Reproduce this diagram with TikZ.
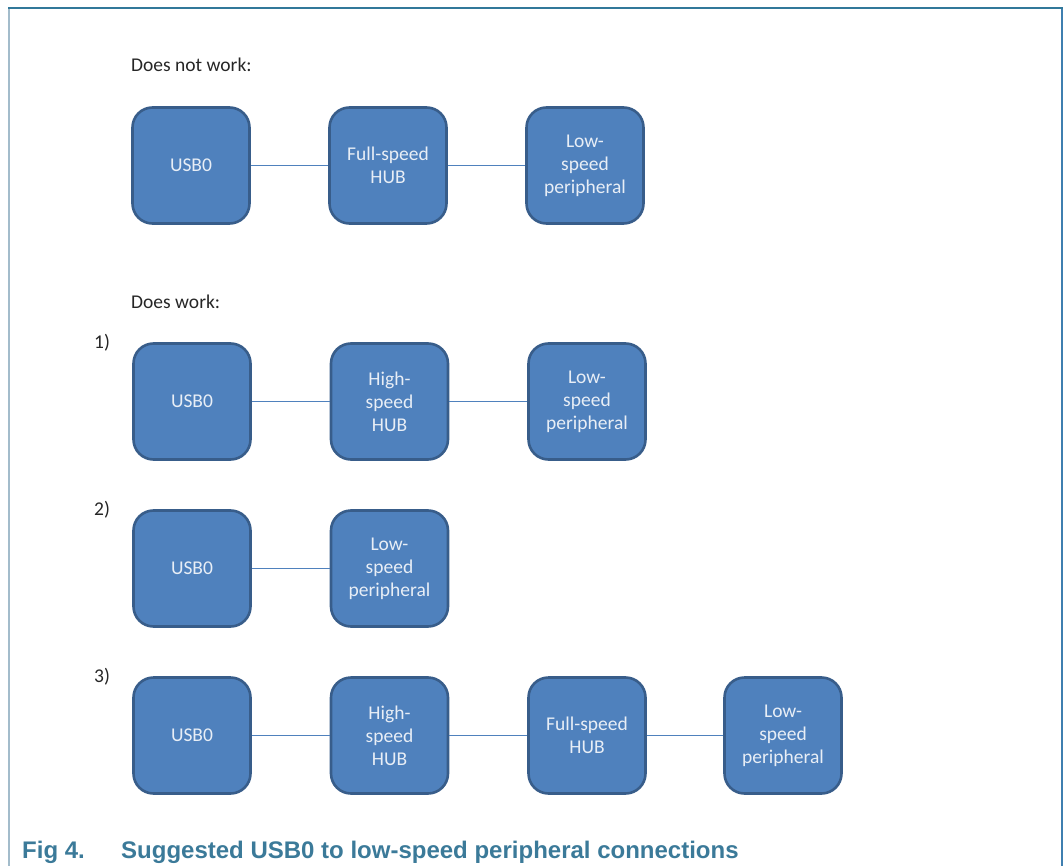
\documentclass[tikz,border=0pt]{standalone}
\usepackage{fontspec}
\setmainfont{Carlito}
\newfontfamily\capfont{Liberation Sans}
\definecolor{boxfill}{HTML}{4F81BD}
\definecolor{boxedge}{HTML}{385D8A}
\definecolor{boxtext}{HTML}{E8EEF6}
\definecolor{captxt}{HTML}{3B7A99}
\definecolor{frametop}{HTML}{31789A}
\definecolor{frameleft}{HTML}{A3BCCB}
\definecolor{frameright}{HTML}{3F7FB0}
\tikzset{
  blockbox/.style={draw=boxedge, line width=2.6pt, fill=boxfill, rounded corners=20pt,
    minimum width=117pt, minimum height=116pt, inner sep=0pt, align=center,
    text=boxtext, font=\fontsize{19.5}{23}\selectfont},
  link/.style={draw=boxfill, line width=1.6pt},
  heading/.style={anchor=base west, inner sep=0pt, text=black!85, font=\fontsize{19.5}{22}\selectfont},
  captext/.style={anchor=base west, inner sep=0pt, text=captxt, font=\capfont\bfseries\fontsize{24}{27}\selectfont}
}
\begin{document}
\begin{tikzpicture}[x=1pt,y=-1pt]
\useasboundingbox (0,0) rectangle (1064,866);
% frame
\draw[frameleft, line width=1.5pt] (9,8) -- (9,866);
\draw[frameright, line width=1.5pt] (1062,8) -- (1062,866);
\draw[frametop, line width=1.5pt] (8.25,8) -- (1062.75,8);

% headings
\node[heading] (h1) at (131,72) {Does not work:};
\node[heading] (h2) at (131,308) {Does work:};
\node[heading] (n1) at (94,348) {1)};
\node[heading] (n2) at (94,515) {2)};
\node[heading] (n3) at (94,682) {3)};

% row 0: does not work
\node[blockbox] (a1) at (191,165.5) {USB0};
\node[blockbox] (a2) at (388,165.5) {Full-speed\\HUB};
\node[blockbox] (a3) at (585,165.5) {Low-\\speed\\peripheral};
\draw[link] (a1) -- (a2);
\draw[link] (a2) -- (a3);

% row 1
\node[blockbox] (b1) at (192,401.5) {USB0};
\node[blockbox] (b2) at (389.5,401.5) {High-\\speed\\HUB};
\node[blockbox] (b3) at (587,401.5) {Low-\\speed\\peripheral};
\draw[link] (b1) -- (b2);
\draw[link] (b2) -- (b3);

% row 2
\node[blockbox] (c1) at (192,568.5) {USB0};
\node[blockbox] (c2) at (389.5,568.5) {Low-\\speed\\peripheral};
\draw[link] (c1) -- (c2);

% row 3
\node[blockbox] (d1) at (192,735.5) {USB0};
\node[blockbox] (d2) at (389.5,735.5) {High-\\speed\\HUB};
\node[blockbox] (d3) at (587,735.5) {Full-speed\\HUB};
\node[blockbox] (d4) at (783,735.5) {Low-\\speed\\peripheral};
\draw[link] (d1) -- (d2);
\draw[link] (d2) -- (d3);
\draw[link] (d3) -- (d4);

% caption
\node[captext] (fig) at (22,858) {Fig 4.};
\node[captext] (cap) at (121,858) {Suggested USB0 to low-speed peripheral connections};
\end{tikzpicture}
\end{document}
